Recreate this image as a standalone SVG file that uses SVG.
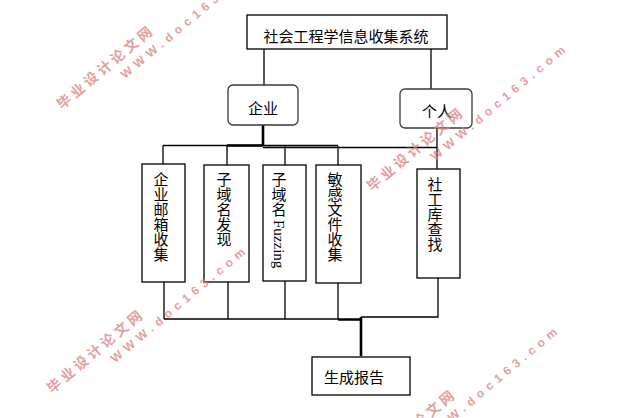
<svg xmlns="http://www.w3.org/2000/svg" width="632" height="418" viewBox="0 0 632 418">
<style>
.box{fill:#fff;stroke:#000;stroke-width:1.3}
.rbox{fill:#fff;stroke:#3a3a3a;stroke-width:1.3}
.t{font-family:"Noto Sans CJK SC","Liberation Sans",sans-serif;font-size:15px;fill:#000}
.v{font-family:"Noto Sans CJK SC","Liberation Sans",sans-serif;font-size:15px;fill:#000;writing-mode:vertical-rl}
.ln{fill:none;stroke:#000;stroke-width:1.3}
.thick{fill:none;stroke:#000;stroke-width:2.6}
.wm1{font-family:"Noto Sans CJK SC",sans-serif;font-weight:bold;font-size:14px;letter-spacing:3.5px;fill:#d9827f;opacity:0.75}
.wm2{font-family:"Liberation Sans",sans-serif;font-weight:bold;font-size:12px;letter-spacing:5px;fill:#d9827f;opacity:0.75}
</style>
<defs>
<g id="wm">
<text class="wm1" x="0" y="0">毕业设计论文网</text>
<text class="wm2" x="68" y="17">WWW.doc163.com</text>
</g>
</defs>
<rect width="632" height="418" fill="#fff"/>
<g id="connectors">
<path class="ln" d="M264,49V86M431,49V89"/>
<path class="thick" d="M263,125V146M227,145.5H263"/>
<path class="ln" d="M163,145.5H338M263,147.5H437M163,145.5V164M227,145.5V165M285,146V165M338,146V165M437,128V169"/>
<path class="ln" d="M164,282V319M228,282V319M285,281V319M338,283V319.5M164,319H338M361,317H438V278"/>
<path class="thick" d="M338,319.5H361M361,317V356"/>
</g>
<g id="title"><rect class="box" x="247" y="15" width="200" height="34"/><text class="t" x="346" y="41.5" text-anchor="middle">社会工程学信息收集系统</text></g>
<g id="qiye"><rect class="rbox" x="228" y="85" width="70" height="40" rx="5"/><text class="t" x="263" y="113.5" text-anchor="middle">企业</text></g>
<g id="geren"><rect class="rbox" x="400" y="89" width="72" height="39" rx="5"/><text class="t" x="437" y="116.5" text-anchor="middle">个人</text></g>
<g id="n1"><rect class="box" x="142" y="164" width="43" height="118"/><text class="v" x="161" y="172">企业邮箱收集</text></g>
<g id="n2"><rect class="box" x="204" y="165" width="45" height="117"/><text class="v" x="224" y="172">子域名发现</text></g>
<g id="n3"><rect class="box" x="263" y="165" width="43" height="116"/><text class="v" x="279" y="172">子域名 <tspan font-family="Liberation Serif">Fuzzing</tspan></text></g>
<g id="n4"><rect class="box" x="316" y="165" width="45" height="118"/><text class="v" x="335" y="172">敏感文件收集</text></g>
<g id="n5"><rect class="box" x="417" y="169" width="43" height="109"/><text class="v" x="435" y="177">社工库查找</text></g>
<g id="report"><rect class="box" x="312" y="357" width="98" height="38"/><text class="t" x="324" y="382.5">生成报告</text></g>
<g id="watermarks">
<use href="#wm" transform="translate(62,110) rotate(-40)"/>
<use href="#wm" transform="translate(372,192) rotate(-40)"/>
<use href="#wm" transform="translate(52,394) rotate(-40)"/>
<use href="#wm" transform="translate(364,474) rotate(-40)"/>
</g>
</svg>
